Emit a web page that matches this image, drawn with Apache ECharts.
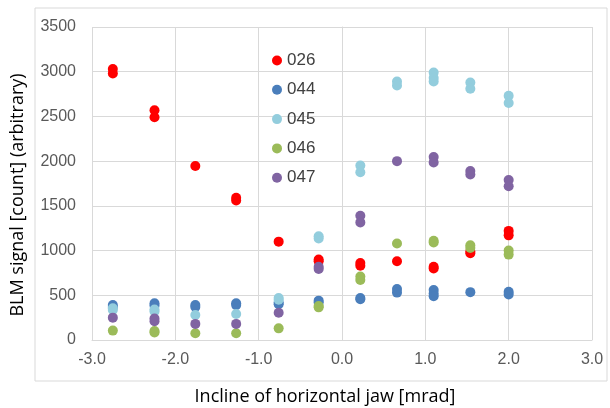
<!DOCTYPE html>
<html>
<head>
<meta charset="utf-8">
<script src="https://cdn.jsdelivr.net/npm/echarts@6/dist/echarts.min.js"></script>
<style>
  html, body { margin: 0; padding: 0; background: #fff; }
  #main { width: 610px; height: 408px; }
</style>
</head>
<body>
<div id="main"></div>
<script>
// incline positions [mrad] and BLM signal per detector
var s026 = [[-2.75, 3030], [-2.75, 2980], [-2.25, 2570], [-2.25, 2490], [-1.76, 1945], [-1.27, 1590], [-1.27, 1560],
  [-0.76, 1100], [-0.28, 900], [-0.28, 880], [0.22, 860], [0.22, 830], [0.66, 880], [1.10, 820], [1.10, 800],
  [1.54, 990], [1.54, 970], [2.00, 1220], [2.00, 1170]];
var s044 = [[-2.75, 390], [-2.75, 370], [-2.25, 410], [-2.25, 385], [-1.76, 390], [-1.76, 370], [-1.27, 410], [-1.27, 390],
  [-0.76, 420], [-0.76, 400], [-0.28, 440], [-0.28, 420], [0.22, 470], [0.22, 455], [0.66, 570], [0.66, 530],
  [1.10, 560], [1.10, 520], [1.10, 490], [1.54, 535], [2.00, 540], [2.00, 510]];
var s045 = [[-2.75, 355], [-2.75, 335], [-2.25, 340], [-2.25, 320], [-1.76, 280], [-1.27, 290],
  [-0.76, 470], [-0.76, 450], [-0.28, 1160], [-0.28, 1135], [0.22, 1950], [0.22, 1875], [0.66, 2890], [0.66, 2845],
  [1.10, 2990], [1.10, 2930], [1.10, 2890], [1.54, 2880], [1.54, 2810], [2.00, 2730], [2.00, 2650]];
var s046 = [[-2.75, 105], [-2.25, 100], [-2.25, 85], [-1.76, 75], [-1.27, 75], [-0.76, 130],
  [-0.28, 380], [-0.28, 365], [0.22, 710], [0.22, 670], [0.66, 1080], [1.10, 1110], [1.10, 1090],
  [1.54, 1060], [1.54, 1030], [2.00, 1000], [2.00, 955]];
var s047 = [[-2.75, 250], [-2.25, 240], [-2.25, 210], [-1.76, 180], [-1.27, 180], [-0.76, 305],
  [-0.28, 820], [-0.28, 795], [0.22, 1390], [0.22, 1315], [0.66, 2000], [1.10, 2045], [1.10, 1985],
  [1.54, 1890], [1.54, 1850], [2.00, 1790], [2.00, 1720]];

var names = ['026', '044', '045', '046', '047'];
var colors = ['#ff0000', '#4a7ebb', '#93cddd', '#9bbb59', '#8064a2'];
var allData = [s026, s044, s045, s046, s047];

var series = [];
for (var i = 0; i < names.length; i++) {
  series.push({
    name: names[i],
    type: 'scatter',
    symbolSize: 10,
    itemStyle: { color: colors[i], opacity: 1 },
    data: allData[i]
  });
}

var chart = echarts.init(document.getElementById('main'));
chart.setOption({
  animation: false,
  textStyle: { fontFamily: 'Liberation Sans' },
  graphic: [{
    type: 'rect',
    shape: { x: 35, y: 8, width: 572, height: 373 },
    style: { fill: 'none', stroke: '#d9d9d9', lineWidth: 1 },
    z: -1
  }, {
    // axis titles sit a little off the plot centre in the original
    type: 'text',
    x: 325, y: 397,
    style: { text: 'Incline of horizontal jaw [mrad]', font: '18px "Open Sans"', fill: '#000', align: 'center', verticalAlign: 'middle' }
  }, {
    type: 'text',
    x: 18, y: 195,
    rotation: Math.PI / 2,
    style: { text: 'BLM signal [count] (arbitrary)', font: '18px "Open Sans"', fill: '#000', align: 'center', verticalAlign: 'middle' }
  }],
  grid: { left: 92, top: 27, width: 500, height: 313 },
  legend: {
    orient: 'vertical',
    left: 267,
    top: 47,
    itemWidth: 10,
    itemHeight: 10,
    itemGap: 12.3,
    icon: 'circle',
    textStyle: { fontSize: 17, color: '#404040', fontFamily: 'Liberation Sans', lineHeight: 16 },
    data: names
  },
  xAxis: {
    type: 'value',
    min: -3, max: 3, interval: 1,
    axisLine: { show: true, lineStyle: { color: '#d9d9d9' } },
    axisTick: { show: false },
    axisLabel: {
      margin: 12, fontSize: 16, color: '#595959',
      formatter: function (v) { return v.toFixed(1); }
    },
    splitLine: { show: true, lineStyle: { color: '#d9d9d9' } }
  },
  yAxis: {
    type: 'value',
    min: 0, max: 3500, interval: 500,
    axisLine: { show: true, lineStyle: { color: '#d9d9d9' } },
    axisTick: { show: false },
    axisLabel: { margin: 16, fontSize: 16, color: '#595959', formatter: function (v) { return String(v); } },
    splitLine: { show: true, lineStyle: { color: '#d9d9d9' } }
  },
  series: series
});
</script>
</body>
</html>
